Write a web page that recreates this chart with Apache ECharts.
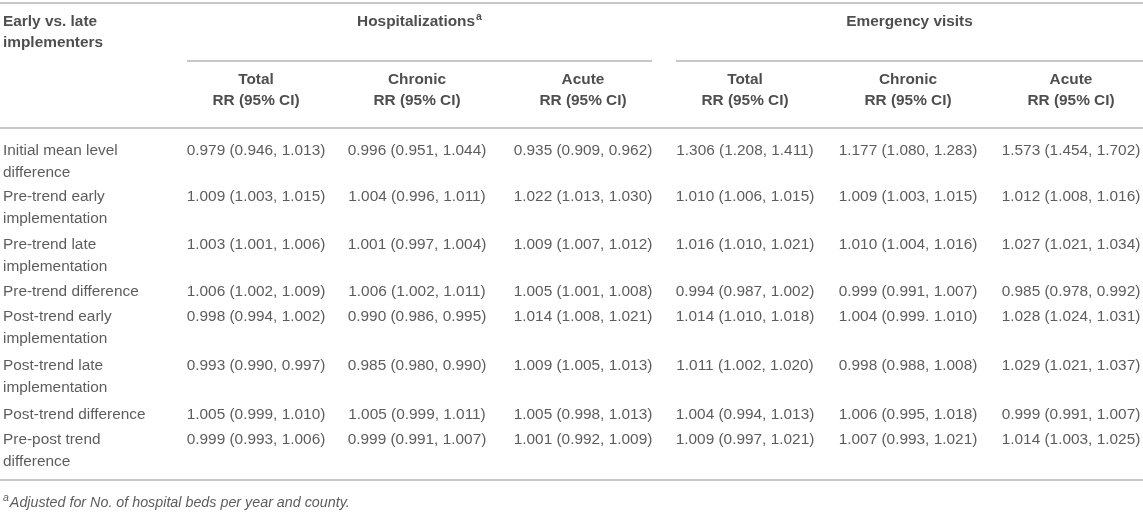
<!DOCTYPE html>
<html>
<head>
<meta charset="utf-8">
<script src="https://cdn.jsdelivr.net/npm/echarts@6/dist/echarts.min.js"></script>
<style>
html,body{margin:0;padding:0;background:#fff;}
#main{width:1143px;height:512px;}
</style>
</head>
<body>
<div id="main"></div>
<script>
/*****  data  *****/
var stubTitle = 'Early vs. late implementers';
var groupNames = ['Hospitalizations', 'Emergency visits'];
var groupNotes = ['a', ''];
var subNames = ['Total', 'Chronic', 'Acute', 'Total', 'Chronic', 'Acute'];
var subTitle = 'RR (95% CI)';
var footMark = 'a';
var footText = 'Adjusted for No. of hospital beds per year and county.';

var rowLabels = [
	'Initial mean level difference',
	'Pre-trend early implementation',
	'Pre-trend late implementation',
	'Pre-trend difference',
	'Post-trend early implementation',
	'Post-trend late implementation',
	'Post-trend difference',
	'Pre-post trend difference'
];
var hospTotal = ['0.979 (0.946, 1.013)', '1.009 (1.003, 1.015)', '1.003 (1.001, 1.006)', '1.006 (1.002, 1.009)',
	'0.998 (0.994, 1.002)', '0.993 (0.990, 0.997)', '1.005 (0.999, 1.010)', '0.999 (0.993, 1.006)'];
var hospChronic = ['0.996 (0.951, 1.044)', '1.004 (0.996, 1.011)', '1.001 (0.997, 1.004)', '1.006 (1.002, 1.011)',
	'0.990 (0.986, 0.995)', '0.985 (0.980, 0.990)', '1.005 (0.999, 1.011)', '0.999 (0.991, 1.007)'];
var hospAcute = ['0.935 (0.909, 0.962)', '1.022 (1.013, 1.030)', '1.009 (1.007, 1.012)', '1.005 (1.001, 1.008)',
	'1.014 (1.008, 1.021)', '1.009 (1.005, 1.013)', '1.005 (0.998, 1.013)', '1.001 (0.992, 1.009)'];
var erTotal = ['1.306 (1.208, 1.411)', '1.010 (1.006, 1.015)', '1.016 (1.010, 1.021)', '0.994 (0.987, 1.002)',
	'1.014 (1.010, 1.018)', '1.011 (1.002, 1.020)', '1.004 (0.994, 1.013)', '1.009 (0.997, 1.021)'];
var erChronic = ['1.177 (1.080, 1.283)', '1.009 (1.003, 1.015)', '1.010 (1.004, 1.016)', '0.999 (0.991, 1.007)',
	'1.004 (0.999. 1.010)', '0.998 (0.988, 1.008)', '1.006 (0.995, 1.018)', '1.007 (0.993, 1.021)'];
var erAcute = ['1.573 (1.454, 1.702)', '1.012 (1.008, 1.016)', '1.027 (1.021, 1.034)', '0.985 (0.978, 0.992)',
	'1.028 (1.024, 1.031)', '1.029 (1.021, 1.037)', '0.999 (0.991, 1.007)', '1.014 (1.003, 1.025)'];

/*****  layout (pixel units of the hidden axes)  *****/
var W = 1143, H = 512;
var stubX = 3;
var colX = [256, 417, 583, 745, 908, 1071];
var groupX = [419.5, 909.5];
var rowY = [151, 197, 244.5, 292, 317, 366, 415, 440];
var lineH = 22;
var rules = [
	[0, 3, W, 3],
	[187, 61, 652, 61],
	[676, 61, W, 61],
	[0, 128, W, 128],
	[0, 480, W, 480]
];

var font = '"Liberation Sans", Arial, Helvetica, sans-serif';
var fs = 15.4;
var bodyColor = '#333';
var headColor = '#222';

var columns = [hospTotal, hospChronic, hospAcute, erTotal, erChronic, erAcute];

var cells = [];
columns.forEach(function (col, c) {
	col.forEach(function (v, r) {
		cells.push([colX[c], rowY[r], v]);
	});
});
var stub = rowLabels.map(function (l, r) {
	return [stubX, rowY[r] - lineH / 2, l];
});
var subHeads = subNames.map(function (s, c) {
	return [colX[c], 80 - 10.5, s + '\n' + subTitle];
});
var groupHeads = groupNames.map(function (g, i) {
	return [groupX[i], 22, '{t|' + g + '}' + (groupNotes[i] ? '{s|' + groupNotes[i] + '}' : '')];
});

function textSeries(data, label) {
	return {
		type: 'scatter',
		symbolSize: 0,
		silent: true,
		data: data,
		label: Object.assign({
			show: true,
			position: [0, 0],
			fontFamily: font,
			fontSize: fs,
			color: bodyColor,
			formatter: function (p) { return p.data[2]; }
		}, label)
	};
}

var chart = echarts.init(document.getElementById('main'));
var option = {
	animation: false,
	grid: { left: 0, right: 0, top: 0, bottom: 0 },
	xAxis: { type: 'value', min: 0, max: W, show: false },
	yAxis: { type: 'value', min: 0, max: H, inverse: true, show: false },
	series: [
		textSeries(cells, { align: 'center', verticalAlign: 'middle' }),
		textSeries(stub, { align: 'left', verticalAlign: 'top', lineHeight: lineH, width: 162, overflow: 'break' }),
		textSeries([[stubX, 22 - 10.5, stubTitle]], {
			align: 'left', verticalAlign: 'top', lineHeight: 21, width: 162, overflow: 'break',
			fontWeight: 'bold', color: headColor
		}),
		textSeries(subHeads, {
			align: 'center', verticalAlign: 'top', lineHeight: 21, fontWeight: 'bold', color: headColor
		}),
		textSeries(groupHeads, {
			align: 'center', verticalAlign: 'middle',
			rich: {
				t: { fontFamily: font, fontSize: fs, fontWeight: 'bold', color: headColor, lineHeight: 20 },
				s: { fontFamily: font, fontSize: 10.5, fontWeight: 'bold', color: headColor, verticalAlign: 'top', lineHeight: 20, padding: [0, 0, 8, 1] }
			}
		}),
		textSeries([[stubX, 503, '{s|' + footMark + '}{t|' + footText + '}']], {
			align: 'left', verticalAlign: 'middle',
			rich: {
				t: { fontFamily: font, fontSize: 14.3, fontStyle: 'italic', color: bodyColor, lineHeight: 20 },
				s: { fontFamily: font, fontSize: 10.5, fontStyle: 'italic', color: bodyColor, verticalAlign: 'top', lineHeight: 20, padding: [0, 1, 8, 0] }
			}
		}),
		{
			type: 'scatter',
			symbolSize: 0,
			silent: true,
			data: [],
			markLine: {
				silent: true,
				symbol: ['none', 'none'],
				label: { show: false },
				lineStyle: { color: '#b4b4b4', width: 1.5, type: 'solid' },
				data: rules.map(function (r) {
					return [{ coord: [r[0], r[1]] }, { coord: [r[2], r[3]] }];
				})
			}
		}
	]
};
chart.setOption(option);
</script>
</body>
</html>
